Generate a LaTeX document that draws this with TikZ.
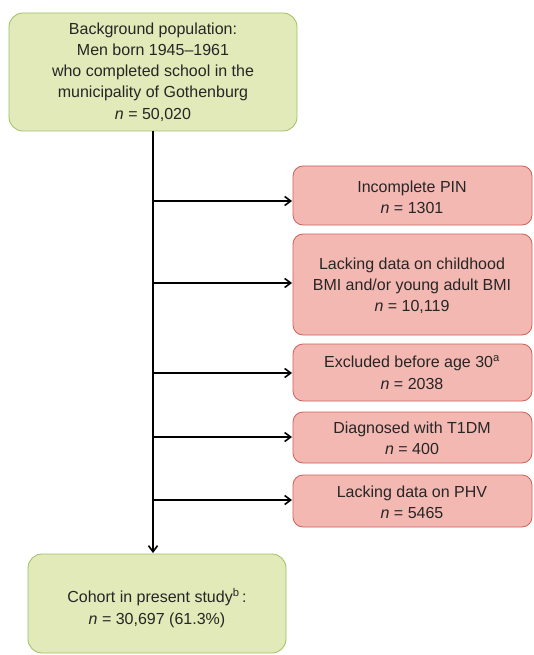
\documentclass[tikz,border=0pt]{standalone}
\usepackage{fontspec}
\setmainfont{Liberation Sans}
\usetikzlibrary{arrows.meta}
\definecolor{gfill}{RGB}{225,234,184}
\definecolor{gdraw}{RGB}{160,190,100}
\definecolor{rfill}{RGB}{244,184,178}
\definecolor{rdraw}{RGB}{205,95,88}
\tikzset{
  gbox/.style={draw=gdraw, fill=gfill, line width=0.8pt, rounded corners=14pt},
  rbox/.style={draw=rdraw, fill=rfill, line width=0.8pt, rounded corners=10pt},
  txt/.style={align=center, font=\fontsize{16}{21.2}\selectfont, text=black!85},
  flow/.style={line width=1.6pt, -{Straight Barb[length=6pt,width=9pt,line width=1.6pt]}}
}
\begin{document}
\begin{tikzpicture}[x=1pt,y=-1pt]
\useasboundingbox (0,0) rectangle (533,655);
% top box
\draw[gbox] (9,13) rectangle (297,131);
\node[txt] (top) at (153,72) {Background population:\\Men born 1945--1961\\who completed school in the\\municipality of Gothenburg\\\textit{n} = 50,020};
\coordinate (topb) at (153,131);
% bottom box
\draw[gbox] (28,554) rectangle (286,653);
\node[txt] (bot) at (157,608) {Cohort in present study\textsuperscript{b}\,:\\\textit{n} = 30,697 (61.3\%)};
\coordinate (bott) at (153,553);
% red boxes
\draw[rbox] (293,166) rectangle (532,225);
\node[txt] (r1) at (412,197) {Incomplete PIN\\\textit{n} = 1301};
\draw[rbox] (293,234) rectangle (532,335);
\node[txt] (r2) at (412,286) {Lacking data on childhood\\BMI and/or young adult BMI\\\textit{n} = 10,119};
\draw[rbox] (293,344) rectangle (532,401);
\node[txt] (r3) at (412,372.5) {Excluded before age 30\textsuperscript{a}\\\textit{n} = 2038};
\draw[rbox] (293,412) rectangle (532,463);
\node[txt] (r4) at (412,438) {Diagnosed with T1DM\\\textit{n} = 400};
\draw[rbox] (293,475) rectangle (532,527);
\node[txt] (r5) at (412,502) {Lacking data on PHV\\\textit{n} = 5465};
% connectors
\draw[flow] (topb) -- (bott);
\foreach \y/\n in {201/1,283/2,373/3,437/4,500/5}{
  \coordinate (s\n) at (153,\y);
  \coordinate (e\n) at (292,\y);
  \draw[flow] (s\n) -- (e\n);
}
\end{tikzpicture}
\end{document}
